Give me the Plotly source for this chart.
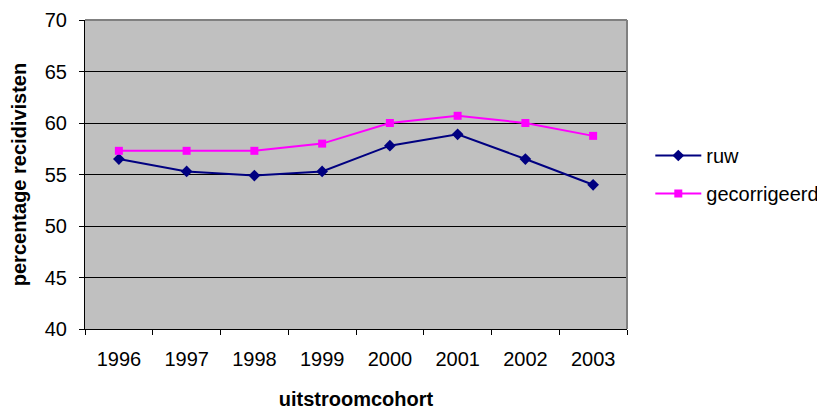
import plotly.graph_objects as go

years = ["1996", "1997", "1998", "1999", "2000", "2001", "2002", "2003"]
ruw = [56.5, 55.3, 54.9, 55.3, 57.8, 58.9, 56.5, 54.0]
gecorrigeerd = [57.3, 57.3, 57.3, 58.0, 60.0, 60.7, 60.0, 58.75]
y_ticks = [40, 45, 50, 55, 60, 65, 70]

FONT = "Arial, 'Liberation Sans', sans-serif"

fig = go.Figure()
fig.add_trace(go.Scatter(
    x=years, y=ruw, name="ruw", mode="lines+markers", legendgroup="a",
    line=dict(color="#000080", width=2),
    marker=dict(symbol="diamond", size=9, color="#000080"),
))
fig.add_trace(go.Scatter(
    x=years, y=gecorrigeerd, name="gecorrigeerd", mode="lines+markers", legendgroup="b",
    line=dict(color="#FF00FF", width=2),
    marker=dict(symbol="square", size=8, color="#FF00FF"),
))

fig.update_layout(
    width=825, height=408,
    margin=dict(l=77, r=206, t=12, b=87, autoexpand=False),
    paper_bgcolor="white",
    plot_bgcolor="#C0C0C0",
    font=dict(family=FONT, size=20, color="black"),
    legend=dict(x=1.043, xanchor="left", y=0.5, yanchor="middle", itemwidth=46,
                font=dict(size=20), tracegroupgap=9, bgcolor="rgba(0,0,0,0)"),
    xaxis=dict(
        type="category", range=[-0.5, 7.5], tickson="boundaries",
        ticks="outside", ticklen=5, tickcolor="black", tickwidth=1,
        showline=True, linecolor="black", linewidth=1,
        showgrid=False, zeroline=False, ticklabelstandoff=12,
        title=dict(text="<b>uitstroomcohort</b>", font=dict(size=20), standoff=22),
        tickfont=dict(size=20),
    ),
    yaxis=dict(
        range=[40, 70], tickvals=y_ticks,
        ticks="outside", ticklen=5, tickcolor="black", tickwidth=1,
        showline=True, linecolor="black", linewidth=1,
        showgrid=True, gridcolor="black", gridwidth=1, zeroline=False,
        ticklabelstandoff=8,
        title=dict(text="<b>percentage recidivisten</b>", font=dict(size=20), standoff=12),
        tickfont=dict(size=20),
    ),
    shapes=[
        dict(type="line", xref="paper", yref="paper", x0=0, x1=1, y0=1, y1=1,
             line=dict(color="#808080", width=2), layer="above"),
        dict(type="line", xref="paper", yref="paper", x0=1, x1=1, y0=0, y1=1,
             line=dict(color="#808080", width=2), layer="above"),
    ],
)

fig.write_html("out.html")
